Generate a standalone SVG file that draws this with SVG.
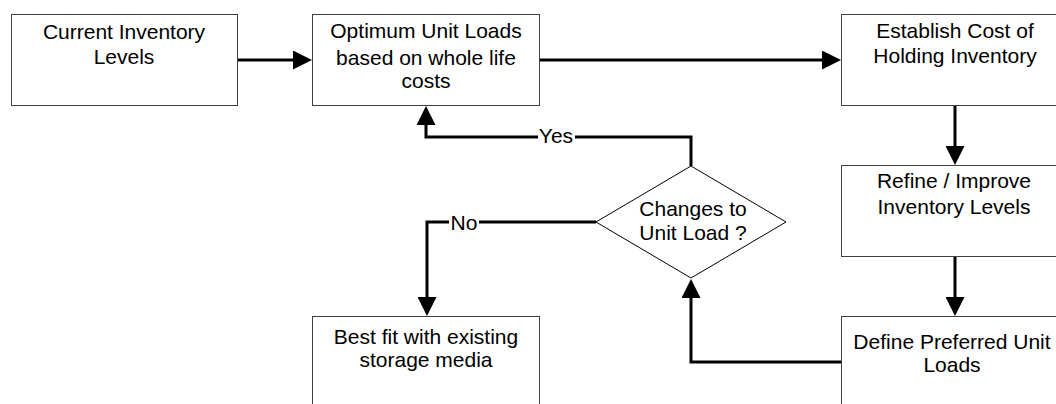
<svg xmlns="http://www.w3.org/2000/svg" width="1056" height="404" viewBox="0 0 1056 404">
<style>
.box{fill:#fff;stroke:#404040;stroke-width:1}
.dia{fill:#fff;stroke:#000;stroke-width:1}
.t{font-family:"Liberation Sans",Arial,sans-serif;font-size:21px;fill:#000;text-anchor:middle}
.c{fill:none;stroke:#000;stroke-width:3;stroke-linejoin:miter}
.lbg{fill:#fff;stroke:none}
</style>
<defs>
<marker id="ah" markerUnits="userSpaceOnUse" markerWidth="19" markerHeight="19" refX="14" refY="9.5" orient="auto">
<path d="M0,0 L19,9.5 L0,19 z" fill="#000"/>
</marker>
</defs>
<rect width="1056" height="404" fill="#fff"/>
<g id="connectors">
<path class="c" d="M238,60 H307" marker-end="url(#ah)"/>
<path class="c" d="M540,60 H836" marker-end="url(#ah)"/>
<path class="c" d="M955,106 V160" marker-end="url(#ah)"/>
<path class="c" d="M955,257 V311" marker-end="url(#ah)"/>
<path class="c" d="M841,362 H691 V284" marker-end="url(#ah)"/>
<path class="c" d="M691,166 V137 H426 V111" marker-end="url(#ah)"/>
<path class="c" d="M596,222 H427 V311" marker-end="url(#ah)"/>
<rect class="lbg" x="538" y="126" width="37" height="20"/>
<text class="t" x="556" y="143">Yes</text>
<rect class="lbg" x="449" y="212" width="30" height="20"/>
<text class="t" x="464" y="229.5">No</text>
</g>
<g id="n1">
<rect class="box" x="11.5" y="14.5" width="226" height="91"/>
<text class="t" x="124" y="39">Current Inventory</text>
<text class="t" x="124" y="64">Levels</text>
</g>
<g id="n2">
<rect class="box" x="312.5" y="14.5" width="227" height="91"/>
<text class="t" x="426" y="38">Optimum Unit Loads</text>
<text class="t" x="426" y="65">based on whole life</text>
<text class="t" x="426" y="88">costs</text>
</g>
<g id="n3">
<rect class="box" x="841.5" y="14.5" width="230" height="91"/>
<text class="t" x="955" y="38">Establish Cost of</text>
<text class="t" x="955" y="63">Holding Inventory</text>
</g>
<g id="n4">
<rect class="box" x="841.5" y="165.5" width="230" height="91"/>
<text class="t" x="954" y="188">Refine / Improve</text>
<text class="t" x="954" y="214">Inventory Levels</text>
</g>
<g id="n5">
<rect class="box" x="841.5" y="316.5" width="230" height="100"/>
<text class="t" x="952" y="349">Define Preferred Unit</text>
<text class="t" x="952" y="372">Loads</text>
</g>
<g id="n6">
<rect class="box" x="312.5" y="316.5" width="227" height="100"/>
<text class="t" x="426" y="344">Best fit with existing</text>
<text class="t" x="426" y="367">storage media</text>
</g>
<g id="n7">
<polygon class="dia" points="691,166 786,222 691,278 596,222"/>
<text class="t" x="693" y="216">Changes to</text>
<text class="t" x="693" y="240">Unit Load ?</text>
</g>
</svg>
